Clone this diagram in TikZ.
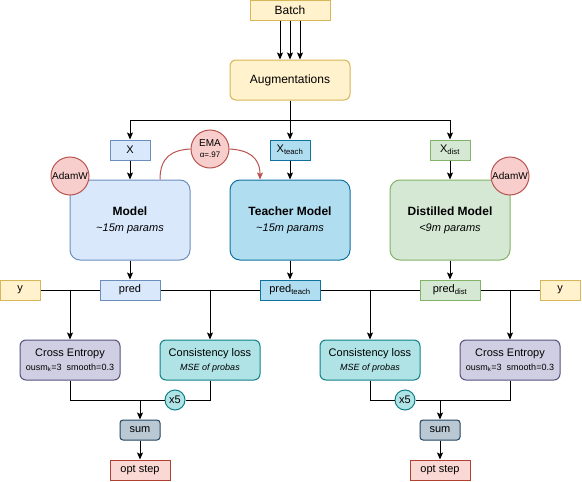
\documentclass[tikz,border=0pt]{standalone}
\usepackage{fontspec}
\setmainfont{Liberation Sans}
\usetikzlibrary{arrows.meta}

\definecolor{yelFill}{HTML}{FFF2CC}
\definecolor{yelLine}{HTML}{D6B656}
\definecolor{bluFill}{HTML}{DAE8FC}
\definecolor{bluLine}{HTML}{6C8EBF}
\definecolor{teaFill}{HTML}{B1DDF0}
\definecolor{teaLine}{HTML}{10739E}
\definecolor{grnFill}{HTML}{D5E8D4}
\definecolor{grnLine}{HTML}{82B366}
\definecolor{redFill}{HTML}{F8CECC}
\definecolor{redLine}{HTML}{B85450}
\definecolor{purFill}{HTML}{D0CEE2}
\definecolor{purLine}{HTML}{56517E}
\definecolor{cyaFill}{HTML}{B0E3E6}
\definecolor{cyaLine}{HTML}{0E8088}
\definecolor{gryFill}{HTML}{BAC8D3}
\definecolor{gryLine}{HTML}{23445D}
\definecolor{optFill}{HTML}{FAD9D5}
\definecolor{optLine}{HTML}{AE4132}

\newcommand{\fpx}[2]{\fontsize{#1}{#2}\selectfont}

\begin{document}
\begin{tikzpicture}[x=1pt,y=1pt,yscale=-1,xscale=1,
  arr/.style={-{Stealth[length=7pt,width=6pt,inset=1.5pt]}},
  wire/.style={line width=1pt},
  plain/.style={draw,line width=1pt,inner sep=0pt,align=center,font=\fpx{11}{13}},
  yel/.style={plain,fill=yelFill,draw=yelLine},
  blu/.style={plain,fill=bluFill,draw=bluLine},
  tea/.style={plain,fill=teaFill,draw=teaLine},
  grn/.style={plain,fill=grnFill,draw=grnLine},
  redc/.style={plain,circle,fill=redFill,draw=redLine,minimum size=38,font=\fpx{10}{11}},
  pur/.style={plain,fill=purFill,draw=purLine,rounded corners=6,minimum width=100,minimum height=40},
  cya/.style={plain,fill=cyaFill,draw=cyaLine},
  gry/.style={plain,fill=gryFill,draw=gryLine,rounded corners=3,minimum width=40,minimum height=20},
  opt/.style={plain,fill=optFill,draw=optLine,minimum width=60,minimum height=20},
  small/.style={minimum width=40,minimum height=20},
  predbox/.style={minimum width=60,minimum height=20},
  modelbox/.style={rounded corners=10,minimum width=120,minimum height=80},
  lossbox/.style={cya,rounded corners=6,minimum width=100,minimum height=40},
  times/.style={cya,circle,minimum size=20}]
\useasboundingbox (0,0) rectangle (582,482);

% input and augmentations
\node[yel,minimum width=80,minimum height=20,font=\fpx{12}{14}] (batch) at (290,10) {Batch};
\node[yel,rounded corners=6,minimum width=120,minimum height=40,font=\fpx{12}{14}] (aug) at (290,80) {Augmentations};
\foreach \dx in {-10,0,10}
  \draw[wire,arr] ([xshift=\dx]batch.south) -- ([xshift=\dx]aug.north);

% augmented inputs
\node[blu,small] (xin) at (130,150) {X};
\node[tea,small] (xteach) at (290,150) {X\textsubscript{teach}};
\node[grn,small] (xdist) at (450,150) {X\textsubscript{dist}};
\coordinate (split) at (290,120);
\draw[wire] (aug) -- (split);
\draw[wire,arr] (split) -| (xin);
\draw[wire,arr] (split) -- (xteach);
\draw[wire,arr] (split) -| (xdist);

% models
\node[blu,modelbox] (model) at (130,220) {{\fpx{12}{14}\bfseries Model}\\[3pt]{\fpx{11}{13}\itshape \textasciitilde15m params}};
\node[tea,modelbox] (teacher) at (290,220) {{\fpx{12}{14}\bfseries Teacher Model}\\[3pt]{\fpx{11}{13}\itshape \textasciitilde15m params}};
\node[grn,modelbox] (distilled) at (450,220) {{\fpx{12}{14}\bfseries Distilled Model}\\[3pt]{\fpx{11}{13}\itshape <9m params}};
\draw[wire,arr] (xin) -- (model);
\draw[wire,arr] (xteach) -- (teacher);
\draw[wire,arr] (xdist) -- (distilled);

% optimisers and EMA
\node[redc] (adamL) at (70,176) {AdamW};
\node[redc] (adamR) at (510,176) {AdamW};
\node[redc] (ema) at (210,149) {EMA\\[0pt]{\fpx{8}{9}α=.97}};
\draw[wire,draw=redLine] ([xshift=30]model.north) .. controls (160,157) and (172,150) .. (ema.west);
\draw[wire,arr,draw=redLine] (ema.east) .. controls (248,150) and (260,157) .. ([xshift=-30]teacher.north);

% predictions
\node[yel,small] (yL) at (20,290) {y};
\node[blu,predbox] (pred) at (130,290) {pred};
\node[tea,predbox] (predt) at (290,290) {pred\textsubscript{teach}};
\node[grn,predbox] (predd) at (450,290) {pred\textsubscript{dist}};
\node[yel,small] (yR) at (560,290) {y};
\draw[wire,arr] (model) -- (pred);
\draw[wire,arr] (teacher) -- (predt);
\draw[wire,arr] (distilled) -- (predd);
\draw[wire] (yL) -- (pred);
\draw[wire] (pred) -- (predt);
\draw[wire] (predt) -- (predd);
\draw[wire] (predd) -- (yR);

% losses
\node[pur] (ceL) at (70,360) {Cross Entropy\\[1pt]{\fpx{9}{11}ousm\textsubscript{k}=3\ \ smooth=0.3}};
\node[lossbox] (conL) at (210,360) {Consistency loss\\[1pt]{\fpx{9}{11}\itshape MSE of probas}};
\node[lossbox] (conR) at (370,360) {Consistency loss\\[1pt]{\fpx{9}{11}\itshape MSE of probas}};
\node[pur] (ceR) at (510,360) {Cross Entropy\\[1pt]{\fpx{9}{11}ousm\textsubscript{k}=3\ \ smooth=0.3}};
\coordinate (tA) at (70,290);
\coordinate (tB) at (210,290);
\coordinate (tC) at (370,290);
\coordinate (tD) at (510,290);
\draw[wire,arr] (tA) -- (ceL);
\draw[wire,arr] (tB) -- (conL);
\draw[wire,arr] (tC) -- (conR);
\draw[wire,arr] (tD) -- (ceR);

% weighting and sums
\node[times] (x5L) at (175,400) {x5};
\node[times] (x5R) at (405,400) {x5};
\coordinate (jL) at (140,400);
\coordinate (jR) at (440,400);
\node[gry] (sumL) at (140,430) {sum};
\node[gry] (sumR) at (440,430) {sum};
\node[opt] (optL) at (140,470) {opt step};
\node[opt] (optR) at (440,470) {opt step};
\draw[wire] (ceL) |- (jL);
\draw[wire] (conL) |- (x5L);
\draw[wire] (x5L) -- (jL);
\draw[wire,arr] (jL) -- (sumL);
\draw[wire,arr] (sumL) -- (optL);
\draw[wire] (conR) |- (x5R);
\draw[wire] (x5R) -- (jR);
\draw[wire] (ceR) |- (jR);
\draw[wire,arr] (jR) -- (sumR);
\draw[wire,arr] (sumR) -- (optR);
\end{tikzpicture}
\end{document}
